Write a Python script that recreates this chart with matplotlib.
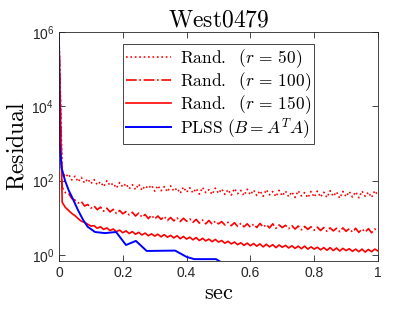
import numpy as np
import matplotlib
matplotlib.use('Agg')
import matplotlib.pyplot as plt

plt.rcParams['mathtext.fontset'] = 'cm'
plt.rcParams['font.family'] = ['Liberation Sans', 'DejaVu Sans']

# sample times (sec) for the randomized runs
t_rand = np.linspace(0, 1, 101)

# log10 of the residual
log_r50 = [5.84,
    2.25, 2.10, 2.18, 2.02, 2.12, 1.97, 2.09, 1.94, 2.05, 1.92,
    2.03, 1.89, 1.97, 1.84, 2.00, 1.87, 1.93, 1.80, 1.95, 1.83,
    1.92, 1.78, 1.89, 1.76, 1.91, 1.74, 1.86, 1.79, 1.88, 1.72,
    1.87, 1.73, 1.84, 1.70, 1.86, 1.72, 1.80, 1.66, 1.83, 1.69,
    1.81, 1.67, 1.79, 1.64, 1.82, 1.68, 1.76, 1.63, 1.80, 1.66,
    1.78, 1.63, 1.76, 1.61, 1.79, 1.65, 1.74, 1.60, 1.77, 1.62,
    1.75, 1.60, 1.73, 1.58, 1.76, 1.62, 1.71, 1.57, 1.74, 1.59,
    1.72, 1.57, 1.70, 1.55, 1.73, 1.59, 1.68, 1.54, 1.71, 1.56,
    1.72, 1.56, 1.69, 1.55, 1.73, 1.58, 1.70, 1.53, 1.71, 1.57,
    1.71, 1.56, 1.70, 1.54, 1.72, 1.58, 1.69, 1.55, 1.73, 1.60]

log_r100 = [5.84,
    1.82, 1.68, 1.66, 1.52, 1.48, 1.40, 1.44, 1.32, 1.36, 1.26,
    1.32, 1.22, 1.29, 1.18, 1.26, 1.16, 1.23, 1.12, 1.20, 1.11,
    1.17, 1.08, 1.15, 1.05, 1.13, 1.02, 1.09, 0.98, 1.07, 0.97,
    1.05, 0.96, 1.04, 0.93, 1.01, 0.92, 1.00, 0.90, 0.99, 0.91,
    0.97, 0.88, 0.96, 0.86, 0.94, 0.84, 0.93, 0.83, 0.91, 0.84,
    0.90, 0.81, 0.88, 0.79, 0.87, 0.77, 0.85, 0.76, 0.84, 0.75,
    0.83, 0.74, 0.85, 0.75, 0.82, 0.73, 0.84, 0.72, 0.81, 0.74,
    0.80, 0.71, 0.79, 0.70, 0.78, 0.68, 0.77, 0.69, 0.76, 0.67,
    0.75, 0.66, 0.74, 0.64, 0.73, 0.65, 0.72, 0.63, 0.73, 0.64,
    0.71, 0.62, 0.72, 0.61, 0.70, 0.62, 0.71, 0.60, 0.70, 0.64]

log_r150 = [5.84,
    1.42, 1.28, 1.20, 1.12, 1.06, 0.98, 0.91, 0.88, 0.83, 0.78,
    0.79, 0.72, 0.76, 0.69, 0.73, 0.66, 0.70, 0.63, 0.67, 0.60,
    0.65, 0.58, 0.63, 0.56, 0.61, 0.54, 0.59, 0.52, 0.57, 0.51,
    0.56, 0.49, 0.55, 0.48, 0.53, 0.46, 0.52, 0.44, 0.50, 0.43,
    0.48, 0.41, 0.47, 0.39, 0.45, 0.38, 0.43, 0.36, 0.42, 0.35,
    0.39, 0.32, 0.37, 0.30, 0.35, 0.28, 0.33, 0.26, 0.32, 0.25,
    0.31, 0.24, 0.30, 0.22, 0.29, 0.22, 0.28, 0.20, 0.27, 0.21,
    0.26, 0.19, 0.25, 0.18, 0.24, 0.17, 0.24, 0.16, 0.22, 0.16,
    0.21, 0.14, 0.20, 0.13, 0.20, 0.12, 0.19, 0.11, 0.18, 0.12,
    0.17, 0.10, 0.16, 0.09, 0.16, 0.08, 0.15, 0.09, 0.16, 0.11]

t_plss = [0, 0.002, 0.008, 0.019, 0.03, 0.045, 0.06, 0.076, 0.09, 0.113,
          0.144, 0.179, 0.21, 0.241, 0.275, 0.364, 0.40, 0.424, 0.492, 0.53]
log_plss = [5.84, 3.0, 2.35, 2.0, 1.75, 1.48, 1.2, 0.94, 0.76, 0.62,
            0.59, 0.62, 0.27, 0.38, 0.11, 0.12, -0.05, -0.11, -0.11, -0.3]

labels = [r'$\mathrm{Rand.}\ \ (r\,=\,50)$',
          r'$\mathrm{Rand.}\ \ (r\,=\,100)$',
          r'$\mathrm{Rand.}\ \ (r\,=\,150)$',
          r'$\mathrm{PLSS}\ (B=A^TA)$']

fig = plt.figure(figsize=(4.19, 3.14), dpi=100)
ax = fig.add_axes([0.1408, 0.1688, 0.7613, 0.7293])

ax.semilogy(t_rand, 10 ** np.array(log_r50), ':', color='red', lw=1.2, label=labels[0])
ax.semilogy(t_rand, 10 ** np.array(log_r100), '-.', color='red', lw=1.2, label=labels[1])
ax.semilogy(t_rand, 10 ** np.array(log_r150), '-', color='red', lw=1.2, label=labels[2])
ax.semilogy(t_plss, 10 ** np.array(log_plss), '-', color='blue', lw=1.4, label=labels[3])

ax.set_xlim(0, 1)
ax.set_ylim(10 ** -0.16, 1e6)
ax.set_xticks([0, 0.2, 0.4, 0.6, 0.8, 1])
ax.set_xticklabels(['0', '0.2', '0.4', '0.6', '0.8', '1'])
ax.set_yticks([1, 1e2, 1e4, 1e6])
ax.minorticks_off()
ax.tick_params(direction='in', top=True, right=True, labelsize=10,
               colors='#262626', length=4, width=0.6)
for s in ax.spines.values():
    s.set_color('#262626')
    s.set_linewidth(0.6)

ax.set_title(r'$\mathrm{West0479}$', fontsize=17, pad=4)
ax.set_xlabel(r'$\mathrm{sec}$', fontsize=16, labelpad=2)
ax.set_ylabel(r'$\mathrm{Residual}$', fontsize=17, labelpad=2)

leg = ax.legend(loc='upper center', bbox_to_anchor=(0.5, 0.985), fontsize=12.5,
                fancybox=False, framealpha=1, edgecolor='#262626',
                handlelength=2.6, labelspacing=0.0, borderpad=0.2, handletextpad=0.5)
leg.get_frame().set_linewidth(0.6)

fig.savefig('out.png', dpi=100)
